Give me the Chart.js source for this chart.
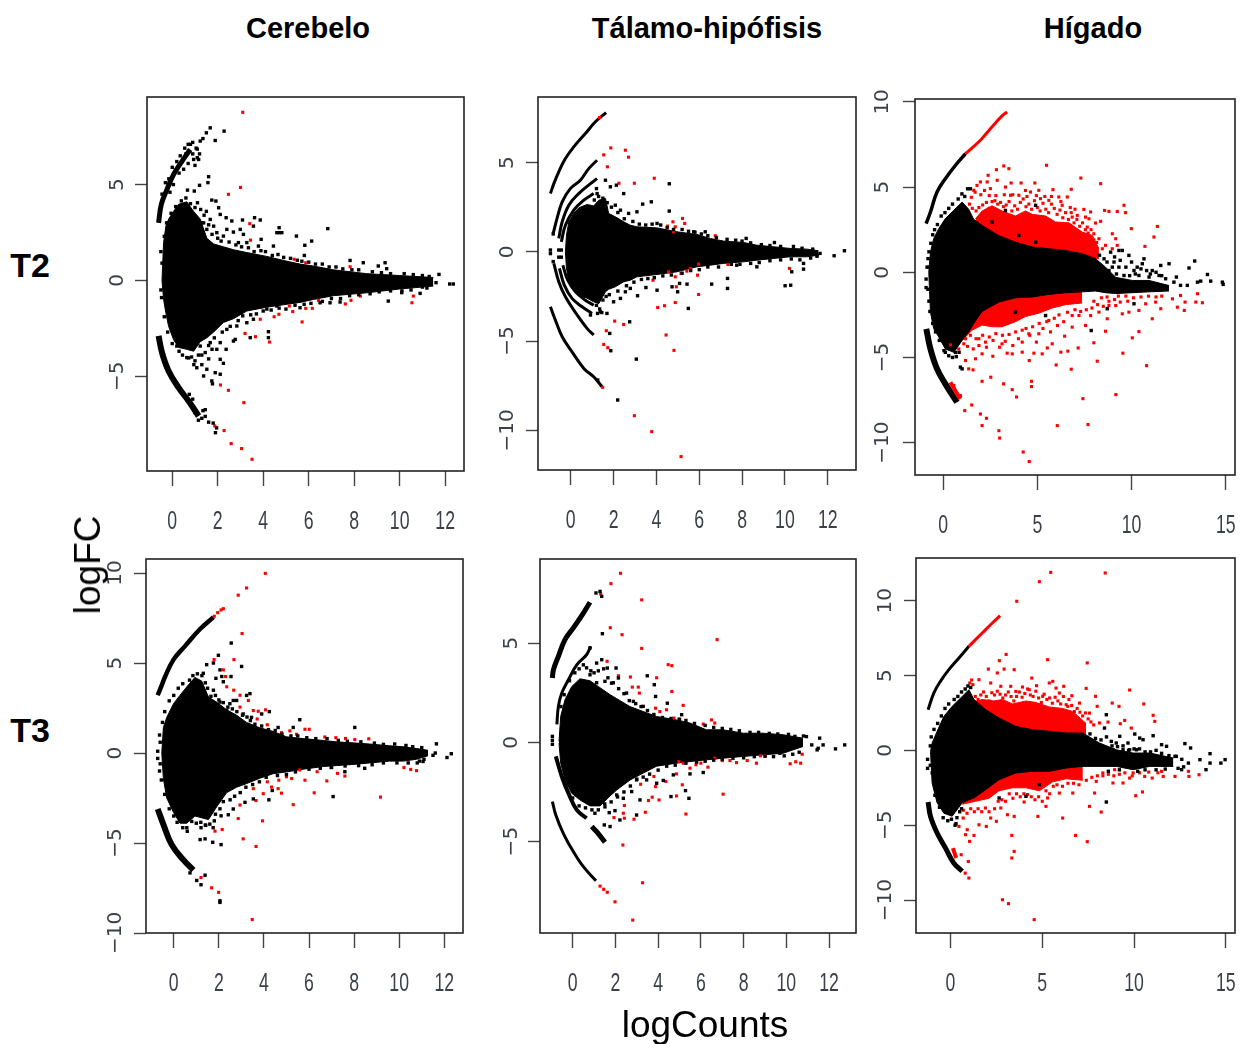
<!DOCTYPE html>
<html><head><meta charset="utf-8">
<script src="https://cdn.jsdelivr.net/npm/chart.js@4/dist/chart.umd.min.js"></script>
<style>
html,body{margin:0;padding:0;background:#fff;width:1240px;height:1044px;overflow:hidden}
canvas{position:absolute}
.t{position:absolute;font-family:"Liberation Sans",Arial,sans-serif;color:#000;white-space:nowrap;transform:translate(-50%,-50%);z-index:5}
.b{font-weight:bold;font-size:29px}
.r{font-weight:bold;font-size:34px}
.l{font-size:37px}
</style></head><body>
<div class="t b" style="left:308px;top:28px">Cerebelo</div>
<div class="t b" style="left:707px;top:28px">Tálamo-hipófisis</div>
<div class="t b" style="left:1093px;top:28px">Hígado</div>
<div class="t r" style="left:30px;top:265px">T2</div>
<div class="t r" style="left:30px;top:730px">T3</div>
<div class="t l" style="left:88px;top:565px;transform:translate(-50%,-50%) rotate(-90deg)">logFC</div>
<div class="t l" style="left:705px;top:1025px">logCounts</div>
<script>
// ---------- tick labels ----------
const xTicks12=[0,2,4,6,8,10,12];
const xTicks15=[0,5,10,15];
const yTicksA=[-5,0,5];
const yTicksB=[-10,-5,0,5];
const yTicksC=[-10,-5,0,5,10];

// ---------- T2 Cerebelo ----------
const p1BlobX=[-.45,-.38,-.28,-.16,.06,.28,.64,.94,1.23,1.52,1.82,2.25,2.69,3.28,4.16,5.04,5.62,6.2,7.09,8.55,10,11.48];
const p1BlobHi=[0,1.97,2.83,3.2,3.6,3.97,4.1,3.6,3.2,2.2,1.9,1.75,1.6,1.45,1.25,1,.85,.75,.55,.35,.25,.15];
const p1BlobLo=[0,-1,-1.7,-2.4,-3.1,-3.5,-3.6,-3.7,-3.2,-3,-2.7,-2.2,-2,-1.6,-1.4,-1.25,-1.15,-1,-.8,-.65,-.45,-.3];
const p1ArcUpX=[-.6,-.48,-.23,.06,.42,.79];
const p1ArcUpY=[3,3.97,4.75,5.53,6.2,6.83];
const p1ArcDnX=[-.6,-.45,-.16,.28,.72,1.16];
const p1ArcDnY=[-2.9,-3.77,-4.73,-5.6,-6.3,-7.08];
const p1Red=[[3.1,8.77],[2.47,4.49],[3,4.85],[3.41,2.96],[3.44,2.1],[5.36,1.1],[5.87,.92],[7.82,.71],[10.6,-.82],[10.54,-1.17],[8.27,-.82],[7.86,-1.04],[7.61,-1.23],[6.43,-1.04],[6.16,-1.46],[5.87,-1.46],[5.71,-2.17],[5.3,-1.63],[5.15,-1.34],[4.69,-1.77],[4.48,-1.9],[3.87,-2.03],[3.2,-2.77],[3.66,-2.94],[4.28,-3.22],[2.12,-5.46],[2.47,-5.74],[3.15,-6.38],[1.87,-7.6],[2.28,-7.84],[2.59,-8.52],[3.05,-8.78],[3.51,-9.34]];
const p1Black=[[12.2,-.19],[12.36,-.19],[11.73,.31],[11.6,-.12],[9.5,-1.08],[10.09,-.64],[10.9,-.68],[9.36,.92],[9.43,.61],[9.06,.75],[8.4,.92],[7.82,1.04],[6.84,2.7],[6.13,2.05],[5.46,2.31],[5.83,1.83],[5.81,1.3],[4.7,2.75],[4.6,2.49],[4.7,2.49],[4.82,2.49],[4.45,1.79],[3.87,3.15],[3.62,3.27],[3.57,2.83],[3.91,2.14],[3.79,1.79],[3.09,3.15],[2.69,2.52],[2.62,3.1],[2.37,3.27],[2.11,3.44],[1.92,4.14],[1.74,4.19],[2.04,3.79],[1.11,4.05],[.67,4.71],[.97,4.66],[1.2,4.96],[1.6,5.41],[1.57,5.1],[1.89,7.3],[2.28,7.79],[1.16,6.31],[.94,6.31],[2.99,2.66],[3.13,2.4],[2.91,1.97],[3.28,1.97],[1.67,3.18],[1.38,3],[1.52,2.66],[1.82,2.83],[1.96,2.49],[2.4,2.66],[2.25,2.31],[.2,-3.43],[.64,-4.03],[.72,-4.05],[1.08,-4.56],[1.38,-4.99],[1.52,-4.64],[1.74,-5.25],[1.77,-5.4],[1.89,-4.82],[2.11,-4.9],[2.11,-4.12],[2.25,-4.33],[2.37,-3.6],[2.69,-3.17],[2.77,-3.08],[3.43,-2.99],[4.23,-2.68],[4.23,-2.99],[1.23,-3.43],[1.45,-3.77],[1.67,-3.25],[1.96,-3.6],[2.11,-3.25],[2.4,-2.56],[2.84,-2.38],[3.28,-2.21],[3.57,-2.03],[4.16,-1.5],[4.6,-1.34],[5.62,-1.43],[6.5,-1.17],[6.94,-1.17],[7.38,-1.13],[1.23,7.27],[1.35,7.4],[1.67,7.96],[1.5,7.7],[.6,6.6],[.8,7.1],[1.05,6.9],[.9,7.2],[1.2,6.6]];
const p1Edge=[[1.4,3.4],[1.3,3],[1.6,2.9],[1.75,2.4],[2,2.2],[2.15,2.05],[2.5,2],[2.8,1.85],[3.05,1.75],[3.35,1.7],[3.6,1.5],[3.9,1.55],[4.1,1.5],[4.4,1.3],[4.65,1.35],[4.9,1.2],[5.2,1.15],[5.5,1.05],[5.7,1],[6,.95],[6.3,.85],[6.6,.85],[6.9,.7],[7.2,.7],[7.5,.6],[7.9,.55],[8.2,.55],[8.8,.45],[9.2,.4],[9.6,.35],[10.2,.35],[10.6,.3],[11,.25],[11.3,.2],[1.3,-3.9],[1.6,-3.4],[1.85,-3],[2.2,-2.7],[2.55,-2.4],[2.9,-2.1],[3.1,-1.85],[3.45,-1.8],[3.7,-1.75],[4,-1.6],[4.35,-1.55],[4.7,-1.45],[5,-1.5],[5.4,-1.3],[5.8,-1.25],[6.1,-1.2],[6.6,-1.1],[7,-.95],[7.4,-.95],[7.8,-.8],[8.2,-.75],[8.7,-.7],[9.1,-.6],[9.6,-.55],[10.1,-.55],[10.5,-.5],[11,-.35],[11.2,-.4],[-.5,1.5],[-.45,.9],[-.5,-.5],[-.47,-.9],[-.35,2.3],[-.25,3],[-.05,3.5],[.15,3.85],[.4,4.15],[.6,4.3],[.8,4],[1,3.8],[1.25,3.7],[1.5,3.6],[-.35,-1.9],[-.2,-2.7],[0,-3.3],[.3,-3.7],[.45,-3.9],[.85,-4],[1,-4.2],[1.15,-3.9],[.95,-4.4],[1.6,-4.1],[1.75,-3.6],[1.3,-4.4],[-.45,4.5],[-.3,5.1],[-.15,5.3],[0,5.9],[.2,6.2],[.35,6.5],[.55,6.9],[.7,7.1],[.3,5.6],[.5,5.8],[.7,6.1],[1,6],[1.1,6.4],[-.1,4.6],[.05,5],[.9,6.6],[1.1,6.85],[1.3,-7.2],[1.45,-7.1],[1.6,-7.4],[1.8,-7.45],[1.95,-7.7],[1.9,-7.95],[1.35,-6.8],[1.45,-6.75],[1,-6.9],[1.15,-7.3],[.9,-6.2],[.75,-5.95]];

// ---------- T2 Tálamo-hipófisis ----------
const p2BlobX=[-.25,-.2,-.09,.14,.37,.76,1.07,1.31,1.62,1.77,2.08,2.47,2.78,3.09,4.03,4.96,5.89,6.51,7.13,8.07,8.69,9.47,10.24,11.02,11.57];
const p2BlobHi=[0,.93,1.68,2.15,2.46,2.65,2.57,2.89,2.99,2.15,1.96,1.68,1.49,1.4,1.34,1.12,.97,.75,.6,.52,.37,.28,.19,.15,.06];
const p2BlobLo=[0,-.93,-1.68,-2.15,-2.43,-2.6,-2.8,-2.9,-2.24,-2.1,-1.96,-1.68,-1.59,-1.4,-1.27,-1.12,-.84,-.75,-.65,-.56,-.47,-.37,-.28,-.28,-.19];
const p2ArcUp1X=[-.95,-.79,-.56,-.25,.14,.68,1.15,1.65];
const p2ArcUp1Y=[3.26,3.82,4.48,5.22,5.88,6.62,7.28,7.8];
const p2ArcDn1X=[-.95,-.72,-.4,.06,.61,1.07,1.46];
const p2ArcDn1Y=[-3.08,-3.82,-4.76,-5.6,-6.53,-7,-7.56];
const p2ArcUp2X=[-.82,-.64,-.4,-.02,.45,.84,1.23];
const p2ArcUp2Y=[1.03,1.87,2.8,3.54,4.01,4.66,5.13];
const p2ArcUp3X=[-.56,-.4,-.09,.37,.92,1.23];
const p2ArcUp3Y=[.75,1.68,2.61,3.26,3.82,4.1];
const p2ArcUp4X=[-.44,-.25,.14,.61,1.07];
const p2ArcUp4Y=[.56,1.49,2.33,2.89,3.26];
const p2ArcDn2X=[-.79,-.56,-.25,.3,.76,1.07];
const p2ArcDn2Y=[-.65,-1.68,-2.52,-3.54,-4.29,-4.66];
const p2ArcDn3X=[-.53,-.3,.06,.53,.99];
const p2ArcDn3Y=[-.93,-1.87,-2.61,-3.08,-3.45];
const p2ArcDn4X=[-.37,-.14,.22,.68,1.07];
const p2ArcDn4Y=[-.75,-1.59,-2.24,-2.71,-2.99];
const p2Red=[[1.35,7.52],[1.54,5.43],[1.87,5.82],[2.55,5.69],[2.7,5.3],[1.71,4.76],[2.25,3.84],[2.97,3.84],[3.9,4.12],[5.22,1.87],[5.32,1.59],[4.77,1.68],[4.88,1.4],[4.52,1.44],[4.8,1.12],[6.75,.9],[7.34,-.71],[10.21,-.93],[5.97,-.69],[5.92,-1.31],[5.97,-2.39],[5.58,-.93],[5.42,-1.08],[5.15,-1.21],[4.88,-1.4],[4.57,-1.12],[3.84,-1.59],[4.93,-1.96],[4.06,-3.12],[4.38,-3.02],[4.88,-2.84],[2.05,-3.88],[2.47,-4.07],[1.66,-4.42],[4.45,-4.66],[1.54,-5.19],[1.73,-5.37],[4.82,-5.52],[1.49,-7.59],[2.97,-9.18],[3.78,-10.07],[5.15,-11.47]];
const p2Black=[[12.78,.06],[12.3,-.22],[11.64,-.09],[11.49,-.17],[10.87,-.65],[10.87,-.97],[10.32,-1.12],[10.01,-1.9],[10.27,-1.87],[7.32,-1.49],[7.32,-2.05],[6.58,-1.81],[5.43,-1.81],[5.08,-1.77],[4.73,-1.96],[4.99,-2.24],[5.49,-3.17],[8.69,-.84],[7.75,-.75],[8.19,.75],[9.51,.52],[6.28,1.12],[5.74,1.12],[4.6,2.28],[4.6,3.81],[3.76,2.8],[3.36,2.67],[3.09,2.24],[2.7,2.15],[2.47,3.26],[2.13,3.73],[1.85,3.64],[1.62,4.01],[1.2,3.54],[1.23,3.26],[2.08,2.61],[2.32,2.33],[4.03,1.59],[3.51,-2],[4.03,-2.15],[3.12,-2.46],[2.78,-2.05],[2.55,-2.24],[2.32,-2.61],[2,-2.8],[1.69,-3.45],[1.38,-3.36],[.92,-3.54],[2.75,-3.92],[1.82,-4.57],[1.87,-5.54],[3.06,-6.01],[2.19,-8.3],[1.26,-7.18],[-.95,.1],[-.95,-.1],[-.82,1],[-.82,-.55],[-.56,.1],[-.56,-.3],[-.44,.1],[-.44,-.3]];
const p2Edge=[[2.2,2.2],[2.5,1.85],[2.9,1.7],[3.2,1.55],[3.5,1.5],[3.8,1.55],[4.2,1.5],[4.5,1.35],[4.8,1.25],[5.2,1.25],[5.5,1.15],[5.8,1.1],[6.1,1],[6.4,.9],[6.8,.8],[7.3,.7],[7.7,.65],[8,.6],[8.4,.5],[8.9,.4],[9.3,.35],[9.8,.3],[10.4,.3],[10.8,.2],[11.3,.15],[2.2,-2.2],[2.6,-1.9],[2.95,-1.7],[3.3,-1.55],[3.6,-1.5],[3.9,-1.45],[4.3,-1.35],[4.7,-1.3],[5.2,-1.2],[5.6,-1.05],[6,-1],[6.4,-.85],[6.9,-.85],[7.5,-.7],[7.9,-.7],[8.4,-.65],[8.8,-.6],[9.3,-.5],[9.8,-.45],[10.3,-.4],[10.7,-.45],[11.2,-.35],[11.5,-.25],[1.1,2.9],[1.3,3.1],[1.5,3],[1.7,2.75],[1.9,2.5],[1.35,2.6],[1.6,2.4],[1.2,-3],[1.35,-3.2],[1.5,-2.7],[1.65,-2.5],[1.8,-2.4],[1.25,-3.45],[1.45,-3.4]];

// ---------- T2 Hígado ----------
const p3BlobX=[-.76,-.67,-.5,-.23,.12,.57,1.01,1.36,1.63,2.07,2.96,3.84,4.73,5.61,6.5,7.38,8.09,8.62,9.16,10.04,10.93,11.99];
const p3BlobHi=[0,1.19,1.97,2.56,3.15,3.64,4.12,3.7,3.1,2.75,2.15,1.77,1.48,1.38,1.28,1.09,.8,.3,-.3,-.48,-.48,-.78];
const p3BlobLo=[0,-2.35,-3.3,-3.8,-4.5,-4.7,-4,-3.5,-3,-2.3,-1.75,-1.5,-1.45,-1.3,-1.2,-1.15,-1.1,-1.2,-1.25,-1.2,-1.15,-1.1];
const p3CloudUpX=[1.72,2.07,2.6,3.13,3.84,4.37,4.73,5.44,5.97,6.68,7.38,7.92,8.27];
const p3CloudUpHi=[3.14,3.6,3.9,3.6,3.3,3.6,3.4,3.3,2.95,2.9,2.36,2.16,1.38];
const p3CloudUpLo=[1,1,1,1,1,1,1,1,1,1,.8,.8,.8];
const p3CloudDnX=[1.01,1.54,2.07,2.6,3.13,3.84,4.37,5.08,5.79,6.5,7.38];
const p3CloudDnHi=[-3,-2,-1,-1,-1,-1,-1,-1,-1,-1,-1];
const p3CloudDnLo=[-4,-3.4,-3.1,-3.2,-3.2,-2.9,-2.6,-2.4,-2.1,-1.9,-1.8];
const p3ArcUpX=[-.9,-.67,-.32,.12,.66,1.19];
const p3ArcUpY=[2.85,3.54,4.71,5.49,6.28,6.96];
const p3ArcUpRedX=[1.19,1.98,2.51,3.13,3.4];
const p3ArcUpRedY=[6.96,7.75,8.43,9.18,9.41];
const p3ArcDnX=[-.89,-.67,-.32,.12,.74];
const p3ArcDnY=[-3.32,-4.5,-5.67,-6.55,-7.63];
const p3ArcDnRedX=[.39,.65,.92];
const p3ArcDnRedY=[-6.45,-6.95,-7.43];
const p3Red=[[3.22,6.24],[3.49,6.08],[2.83,6.02],[2.39,5.69],[5.49,6.28],[7.31,5.53],[8.36,5.2],[4.14,5.24],[4.87,5.24],[3.61,5.24],[1.98,5.3],[1.8,5.1],[2.87,5.4],[2.51,4.91],[2.34,5.3],[1.63,4.81],[5.83,4.85],[6.8,4.87],[4.37,4.8],[4.64,4.71],[5.08,4.81],[3.31,5],[3.58,4.52],[4.02,4.52],[5.17,4.32],[5.61,4.22],[6.14,4.42],[6.59,4.42],[6.32,3.93],[7.47,3.69],[8.57,3.63],[8.8,3.57],[9.24,3.57],[9.6,3.93],[9.68,3.5],[7.83,3.54],[7.56,3.24],[7.12,3.34],[6.85,3.24],[7.74,3.14],[8.36,2.99],[8.09,2.89],[7.65,2.65],[9.99,2.56],[11.37,2.69],[11.19,2.07],[10.71,1.52],[8.98,2.26],[9.16,1.97],[8,2.26],[8.27,1.97],[8.62,1.58],[9.24,1.58],[8.98,1.38],[8.45,1.38],[13.76,-1.79],[13.41,-1.75],[13.5,-1.26],[12.8,-2.24],[12.84,-1.75],[12.43,-2.05],[12.17,-1.56],[12.6,-1.36],[11.55,-2.14],[11.1,-2.73],[11.28,-1.75],[10.75,-1.85],[10.39,-2.24],[9.86,-2.34],[9.51,-2.44],[9.16,-1.95],[8.71,-2.73],[8.8,-1.95],[8.27,-2.34],[7.83,-2.54],[7.21,-2.54],[6.85,-2.54],[6.85,-3.22],[7.56,-3.12],[10.39,-3.48],[10.04,-3.85],[9.54,-4.75],[10.8,-5.48],[8.62,-3.46],[8,-4.14],[8.18,-5.22],[7.17,-4.44],[6.62,-4.63],[6.25,-4.69],[6.8,-5.69],[6,-5.44],[6.45,-3.75],[5.53,-4.44],[5.79,-4.2],[4.82,-4.75],[5.26,-4.79],[4.57,-5.18],[4.2,-4.69],[3.67,-4.79],[3.13,-4.2],[3.4,-4.75],[2.64,-4.93],[2.07,-4.79],[1.72,-5.08],[1.19,-5.18],[1.36,-5.67],[1.59,-5.73],[2.07,-6.4],[2.53,-6.16],[3.21,-6.55],[4.69,-6.4],[4.69,-6.71],[3.67,-6.89],[3.9,-7.32],[7.42,-7.42],[9.17,-7.18],[6.06,-9],[7.69,-8.94],[4.25,-10.55],[4.57,-11.11],[2.96,-9.3],[3,-9.73],[2.07,-9],[1.98,-8.32],[2.3,-8.57],[1.52,-7.79],[1.15,-8.12],[.92,-7.24],[.57,-6.65],[5.61,-2.83],[6.07,-3.12],[5.08,-3.61],[4.55,-3.61],[4.2,-4.1],[2.25,-4.1],[1.9,-3.9],[1.19,-3.9],[.83,-4.5],[.39,-4.26]];
const p3RedCloud=[[1.9,3.8],[2.1,3.95],[2.3,4.1],[2.45,3.75],[2.6,4.15],[2.75,4.2],[2.9,4],[3.05,4.1],[3.2,3.85],[3.35,3.95],[3.5,4.15],[3.65,3.6],[3.8,3.9],[3.95,3.7],[4.1,4.1],[4.25,4.3],[4.4,3.85],[4.55,4],[4.7,3.7],[4.85,4.2],[5,3.8],[5.15,3.6],[5.3,4.05],[5.45,3.7],[5.6,3.5],[5.75,4],[5.9,3.75],[6.05,3.4],[6.2,3.65],[6.35,3.2],[6.5,3.5],[6.65,3.1],[6.8,3.5],[6.95,2.9],[7.1,3.1],[7.25,2.7],[7.4,2.9],[7.55,2.5],[7.7,2.3],[7.85,2.5],[8,1.9],[8.15,1.75],[2.2,3.5],[1.75,3.6],[1.55,3.75],[1.4,4],[1.5,4.4],[1.7,4.7],[2,4.55],[2.2,4.8],[2.45,4.5],[2.8,4.5],[3.25,4.55],[3.7,4.55],[4.45,4.45],[4.95,4.5],[5.4,4.45],[5.75,4.45],[6.25,4.15],[6.75,3.8],[7,3.7],[1.1,-4.2],[1.3,-4.35],[1.45,-3.7],[1.6,-4.5],[1.75,-3.9],[1.9,-4.3],[2.1,-3.7],[2.3,-4.4],[2.45,-3.8],[2.65,-4],[2.8,-3.6],[3,-4.4],[3.15,-3.7],[3.3,-4.05],[3.5,-3.65],[3.7,-4.3],[3.85,-3.5],[4,-3.9],[4.2,-3.4],[4.4,-3.3],[4.6,-3.7],[4.75,-3.2],[4.95,-4.1],[5.1,-3],[5.3,-3.3],[5.5,-2.9],[5.7,-3.5],[5.9,-2.7],[6.15,-2.5],[6.4,-2.9],[6.6,-2.35],[7,-2.2],[7.3,-2.3],[7.6,-2.2],[7.9,-2.1],[8.2,-1.9],[8.5,-2],[8.8,-1.7],[9.1,-1.6],[9.4,-1.75],[9.8,-1.7],[10.1,-1.5],[10.5,-1.45],[10.9,-1.4],[11.3,-1.45],[11.6,-1.4],[8,-1.7],[8.4,-1.5],[8.7,-1.45],[9.3,-1.4],[9.7,-1.4]];
const p3Black=[[14.82,-.58],[14.86,-.71],[14.2,-.52],[14.03,-.13],[13.67,-.52],[13.5,-.58],[13.35,.66],[13.05,.25],[12.96,-.77],[12.6,-.77],[12.38,-.28],[12.25,-.58],[11.99,.5],[11.55,.4],[11.1,.1],[10.66,.79],[10.57,.5],[10.3,.3],[9.86,.99],[10.13,.1],[9.51,1.28],[9.33,1.28],[8.89,1.18],[9.07,.6],[8.98,.3],[8.54,.79],[8.45,.3],[8.62,-.09],[9.33,.3],[9.6,-.19],[10.39,-.19],[10.93,-.28],[11.46,-.19],[11.81,-.38],[7.86,-3.42],[10.13,-1.85],[8.71,-2.14],[5.44,-2.54],[3.84,-2.34],[4.91,3.93],[3.31,3.63],[2.6,2.95],[4.02,2.16],[4.91,1.77],[1.01,-5.67],[.92,-5.57],[.66,-4.7],[.12,-4.7],[-.9,-.4],[-.9,-.9],[-.85,.3]];
const p3Edge=[[-.8,.8],[-.75,.3],[-.75,1.2],[-.65,1.7],[-.55,2.2],[-.45,2.5],[-.3,2.8],[-.1,3.3],[.1,3.5],[.3,3.75],[.5,4],[.8,4.3],[1,4.6],[1.15,4.45],[1.3,4.9],[1.45,4.9],[-.8,-1],[-.75,-1.7],[-.7,-2.3],[-.55,-3],[-.4,-3.5],[-.2,-4],[.05,-4.6],[.3,-4.9],[.5,-5],[.7,-4.95],[.85,-4.7],[8.3,1],[8.7,.6],[9.1,.9],[9.4,.7],[9.7,.3],[10,.6],[10.2,-.1],[10.5,.2],[10.8,.1],[11,-.1],[11.3,0],[11.6,-.2],[9.9,-.2],[9.2,-.1],[8.8,.1]];

// ---------- T3 Cerebelo ----------
const p4BlobX=[-.53,-.46,-.31,-.01,.28,.58,.94,1.24,1.54,1.9,2.35,2.79,3.23,3.82,4.41,5,5.74,6.63,7.22,8.1,8.69,9.58,10.17,10.76,11.28];
const p4BlobHi=[0,1.42,1.98,2.74,3.21,3.68,4.2,4,3.11,2.83,2.4,2.1,1.7,1.4,1.2,.9,.8,.7,.62,.55,.5,.4,.35,.25,.15];
const p4BlobLo=[0,-1.42,-2.5,-3.3,-3.9,-3.9,-3.5,-3.6,-3.7,-3,-2.2,-1.9,-1.7,-1.4,-1.15,-1.05,-.9,-.75,-.7,-.62,-.55,-.45,-.45,-.35,-.15];
const p4ArcUpX=[-.71,-.53,-.38,-.01,.5,1.17,1.76];
const p4ArcUpY=[3.21,3.77,4.25,5.19,5.94,6.89,7.55];
const p4ArcDnX=[-.71,-.46,-.09,.43,.87];
const p4ArcDnY=[-3.11,-3.96,-5.09,-5.94,-6.51];
const p4Red=[[4.06,9.98],[3.23,9.17],[2.86,8.77],[3.03,6.64],[2.67,5.19],[1.79,5.19],[2.2,4.62],[2.3,4.25],[2.35,3.68],[2.66,3.49],[2.94,3.21],[3.31,2.92],[2.94,2.55],[3.53,2.36],[4.07,2.4],[3.75,2.32],[3.7,1.89],[4.15,1.57],[4.78,1.13],[5.15,1.23],[5.45,1.04],[5.82,1.32],[6.01,1.32],[6.7,.89],[7.19,.85],[7.62,.81],[8.03,.75],[8.65,.79],[10.21,-.81],[10.51,-.91],[10.77,-.98],[9.17,-2.45],[7.59,-1.28],[7.26,-1.13],[6.97,-.81],[6.79,-1.55],[6.36,-1.04],[6.23,-2.21],[5.82,-1.51],[5.59,-.94],[5.3,-2.87],[5.23,-1.42],[5,-1.32],[4.78,-2.23],[4.63,-1.98],[4.66,-1.51],[4.34,-1.89],[4.15,-1.6],[3.97,-2.26],[3.65,-2.64],[3.53,-1.98],[3.94,-3.77],[3.65,-5.19],[3.08,-4.77],[2.94,-2.89],[2.86,-3.64],[2.15,-4.25],[1.83,-4.34],[1.21,-6.92],[1.68,-7.49],[1.99,-7.74],[3.48,-9.25],[1.8,7.6],[1.95,7.8],[2.1,7.95],[2.2,8.02]];
const p4Black=[[12.31,-.04],[12.12,-.25],[11.65,.51],[11.6,0],[11.5,-.13],[11.06,-.47],[8.03,1.42],[5.59,1.85],[5.3,1.42],[4.63,1.42],[4.24,2.3],[3.9,2.17],[3.38,3.3],[3.23,3.2],[2.64,2.92],[3.01,4.81],[2.55,6.11],[1.98,5.43],[1.76,5],[1.46,4.91],[1.31,4.43],[2.05,4.62],[2.54,4.25],[2.13,4.25],[1.87,4.15],[1.76,3.49],[2.2,3.96],[2.49,2.74],[2.79,2.92],[3.08,2.17],[3.45,1.98],[2.05,2.83],[2.35,2.36],[7.07,-2.42],[8.47,-.85],[7.59,-1.04],[4.22,-2.6],[4.37,-2.08],[3.53,-2.55],[3.16,-2.74],[2.64,-3.11],[2.42,-3.43],[2.1,-3.49],[1.8,-3.77],[1.42,-4.02],[1.21,-4.15],[.58,-4.15],[.35,-3.77],[1.17,-4.81],[1.39,-4.77],[1.73,-4.96],[2.1,-5.09],[.72,-6.66],[1.02,-7.08],[1.21,-7.32],[1.39,-6.79],[2.05,-8.21],[2.05,-8.3],[-.71,.1],[-.71,-.3],[-.63,1],[-.63,-1]];
const p4Edge=[[-.5,1.7],[-.6,.6],[-.6,-.6],[-.55,-1.5],[-.4,2.3],[-.2,2.9],[0,3.2],[.2,3.6],[.4,3.85],[.7,4.05],[.85,4.3],[1.05,4.4],[1.25,4.3],[1.4,3.9],[1.35,3.4],[1.5,3.6],[1.65,3.15],[1.85,3.2],[2,2.95],[2.2,2.8],[2.4,2.55],[2.6,2.45],[2.8,2.3],[3.05,2.1],[3.25,2],[3.4,1.8],[3.6,1.6],[3.9,1.5],[4.2,1.3],[4.5,1.25],[4.8,1.05],[5.2,.95],[5.5,.95],[5.9,.85],[6.3,.8],[6.8,.8],[7.3,.7],[7.7,.65],[8.3,.62],[8.9,.55],[9.3,.48],[9.8,.5],[10.3,.42],[10.6,.35],[11,.3],[-.4,-2.3],[-.2,-3.1],[0,-3.5],[.15,-3.85],[.4,-4.15],[.6,-4.35],[.8,-3.8],[1,-3.9],[1.2,-3.85],[1.4,-4],[1.6,-3.95],[1.75,-4.15],[1.85,-3.4],[2.05,-3.1],[2.2,-2.7],[2.5,-2.6],[2.7,-2.4],[2.95,-2.2],[3.2,-1.9],[3.5,-1.75],[3.8,-1.6],[4.1,-1.35],[4.6,-1.25],[5,-1.2],[5.4,-1.05],[6,-.9],[6.5,-.85],[7,-.8],[7.6,-.72],[8.2,-.7],[8.8,-.65],[9.3,-.55],[9.9,-.55],[10.4,-.55],[10.9,-.45],[11.1,-.35],[10.8,-.55]];

// ---------- T3 Tálamo-hipófisis ----------
const p5BlobX=[-.64,-.56,-.36,-.05,.34,.81,1.28,1.75,2.06,2.68,3.3,3.93,4.86,5.49,6.26,7.04,7.98,8.91,9.85,10.78];
const p5BlobHi=[.04,1.31,2.14,2.8,3.2,3.1,2.75,2.4,2.2,1.8,1.55,1.3,1.13,.97,.63,.63,.46,.46,.38,.21];
const p5BlobLo=[-.04,-1.05,-1.89,-2.56,-2.9,-3.2,-3.2,-2.7,-2.4,-1.9,-1.55,-1.2,-1.05,-.97,-.88,-.8,-.71,-.63,-.55,-.21];
const p5ArcUp1X=[-.95,-.9,-.67,-.36,.03,.5,.81];
const p5ArcUp1Y=[3.24,3.66,4.33,5.17,5.76,6.51,7.05];
const p5RingUpX=[-.74,-.67,-.51,-.2,.19,.65,.84];
const p5RingUpY=[.9,1.81,2.48,3.15,3.9,4.41,4.83];
const p5RingDnX=[-.79,-.51,-.2,.19,.65];
const p5RingDnY=[-.71,-1.72,-2.56,-3.4,-3.82];
const p5ArcDn1X=[-.95,-.79,-.44,.03,.5,1.09];
const p5ArcDn1Y=[-2.98,-3.66,-4.58,-5.5,-6.26,-6.97];
const p5ArcDn2X=[.89,1.12,1.51];
const p5ArcDn2Y=[-4.24,-4.5,-5.03];
const p5Red=[[2.24,8.51],[1.79,7.99],[1.31,7.47],[3.23,7.17],[1.76,5.77],[2.31,5.42],[6.76,5.17],[3.23,4.73],[4.47,3.91],[4.64,3.86],[1.61,4.08],[2.14,3.35],[2.7,3.29],[3.93,3.25],[2.79,2.78],[3.07,2.78],[3.12,2.48],[4.64,2.56],[5.17,1.86],[3.88,1.72],[4.08,1.55],[4.39,1.64],[4.74,1.22],[4.97,1.18],[6.11,.92],[6.5,1.13],[6.65,.97],[10.74,-.6],[10.67,-1.05],[10.44,-.98],[10.18,-1.08],[9.02,-.68],[8.79,-.68],[8.6,-1.05],[8.17,-.92],[7.67,-1.02],[7.36,-.92],[7,-.92],[6.65,-.8],[6.33,-1.25],[6,-1.05],[5.77,-1.13],[5.49,-1.3],[5.17,-1.05],[4.97,-.97],[4.86,-1.59],[4.36,-1.97],[3.8,-1.72],[3.88,-2.23],[3.18,-2.11],[5.13,-2.14],[4.86,-2.7],[4.04,-2.9],[3.72,-2.76],[3.55,-2.93],[7.04,-2.61],[5.3,-3.61],[3.4,-3.52],[2.87,-3.87],[2.42,-3.18],[2.37,-3.57],[2.42,-3.82],[1.93,-3.79],[2.35,-5.17],[3.27,-7.07],[2.81,-8.95],[1.98,-8.03],[1.28,-7.24],[1.45,-7.4],[1.62,-7.55]];
const p5Black=[[12.73,-.13],[12.3,-.33],[11.72,-.13],[11.44,-.38],[11.19,-.13],[11.56,.21],[10.94,.29],[6.11,-1.52],[5.49,-1.59],[5.44,-2.82],[5.28,-2.43],[4.6,-2.73],[4.43,1.97],[5.1,1.39],[3.88,2.31],[3.82,2.9],[3.49,3.35],[1.39,5.47],[.81,4.75],[1.36,4.16],[1.12,3.99],[1.62,3.74],[2.03,3.74],[2.14,3.24],[2.52,2.48],[2.84,2.06],[3.3,1.81],[1.51,3.07],[1.82,2.98],[.81,3.4],[1.12,3],[2.99,-1.89],[3.15,-2.9],[2.99,-3.66],[2.21,-3.91],[1.71,-3.54],[1.98,-3.44],[1.51,-3.25],[1.04,-3.57],[1.48,-4.16],[1.75,-4.24],[2.76,-2.48],[2.37,-2.82],[2.06,-2.65],[4.24,-1.92],[3.93,-2.06],[3.46,-1.89],[4.71,-1.64],[9.7,-.55],[11.49,-.3],[1.09,7.52],[1.28,7.6],[1.36,7.35],[-.95,.1],[-.95,-.1],[-.95,.3]];
const p5Edge=[[-.55,1.8],[-.4,2.4],[-.15,3.1],[.1,3.5],[.3,3.7],[.5,3.9],[.65,3.75],[.85,3.6],[1,3.5],[1.2,3.6],[1.45,3.7],[1.65,3.25],[1.9,3],[2.15,2.7],[2.4,2.45],[2.65,2.1],[2.95,1.95],[3.2,1.8],[3.5,1.6],[3.8,1.4],[4.2,1.25],[4.6,1.2],[5,1.15],[5.3,1.1],[5.7,.95],[6.2,.85],[6.6,.75],[7,.7],[7.4,.65],[7.8,.58],[8.3,.5],[8.7,.5],[9.2,.45],[9.6,.42],[10.1,.4],[10.4,.3],[10.8,.32],[-.3,-2.1],[0,-2.8],[.3,-3.2],[.6,-3.3],[.9,-3.4],[1.2,-3.4],[1.5,-3.1],[1.8,-3],[2.1,-2.75],[2.4,-2.5],[2.7,-2.2],[3,-1.85],[3.3,-1.75],[3.6,-1.6],[4,-1.4],[4.4,-1.2],[4.8,-1.15],[5.3,-1.05],[5.8,-1],[6.2,-.95],[6.6,-.9],[7,-.85],[7.5,-.8],[8,-.78],[8.5,-.72],[9,-.7],[9.4,-.72],[9.9,-.68],[10.3,-.6],[10.6,-.5]];

// ---------- T3 Hígado ----------
const p6BlobX=[-1.09,-1,-.73,-.36,.09,.64,1,1.28,1.92,2.64,3.56,4.47,5.38,6.3,7.21,8.12,9.03,9.95,10.86,12.14];
const p6BlobHi=[-.07,.49,1.27,2.27,2.94,3.6,4.05,3.4,2.72,2.16,1.6,1.38,1.27,1.16,1.16,.49,.04,-.18,-.18,-.51];
const p6BlobLo=[-.07,-2.2,-3.5,-4.2,-4.4,-3.5,-3.3,-3.18,-2.62,-1.96,-1.51,-1.4,-1.4,-1.18,-1.07,-1.07,-1.07,-1.29,-1.07,-1.07];
const p6CloudUpX=[1.19,1.73,2.37,2.83,3.38,4.11,4.65,5.38,6.11,6.66,7.39];
const p6CloudUpHi=[3.2,3.4,3.3,3.4,3.1,3.3,3.2,2.9,2.8,2.6,1.8];
const p6CloudUpLo=[1,1,1,1,1,1,1,1,1,1,.8];
const p6CloudDnX=[.64,1.37,2.1,2.64,3.38,4.11,4.84,5.57,6.3,7.21];
const p6CloudDnHi=[-3,-2,-1,-1,-1,-1,-1,-1,-1,-1];
const p6CloudDnLo=[-3.6,-3.4,-3.2,-2.7,-2.5,-2.5,-2.7,-2.1,-1.9,-2];
const p6ArcUpX=[-1.22,-.91,-.55,-.09,.46,1];
const p6ArcUpY=[2.72,3.83,4.61,5.39,6.17,6.95];
const p6ArcUpRedX=[1,1.73,2.28,2.7];
const p6ArcUpRedY=[6.95,7.84,8.51,9];
const p6ArcDnX=[-1.22,-1.09,-.73,-.27,.18,.64];
const p6ArcDnY=[-3.45,-4.41,-5.52,-6.53,-7.53,-8.08];
const p6ArcDnRedX=[.13,.31];
const p6ArcDnRedY=[-6.53,-7.19];
const p6Red=[[5.46,11.89],[4.84,11.27],[8.43,11.85],[3.61,9.96],[3.03,6.41],[2.66,5.99],[5.29,6.06],[7.45,5.84],[2.06,5.43],[2.55,5.17],[2.92,5.43],[3.47,5.39],[4.43,4.83],[1.55,4.72],[1.22,4.39],[2.19,4.5],[2.74,4.28],[3.28,4.28],[3.92,4.23],[4.69,4.32],[5.38,4.5],[5.57,4.61],[5.75,4.16],[6.17,4.28],[6.61,3.65],[7.39,4.14],[9.76,4.03],[10.53,3.1],[7.9,3.61],[8.81,3.16],[9.18,2.94],[7.99,2.94],[11.04,2.34],[11.13,1.94],[9.49,2],[9.25,1.78],[8.58,1.89],[8.12,1.83],[9.85,1.49],[7.57,2.49],[7.03,3.16],[6.39,2.94],[5.93,3.83],[5.02,3.61],[4.29,4.05],[3.56,3.94],[13.54,-1.63],[12.99,-1.74],[12.96,-1.4],[12.23,-1.74],[11.59,-1.74],[11.5,-1.4],[10.99,-1.85],[10.58,-1.74],[9.95,-1.51],[9.76,-1.85],[9.4,-2.18],[8.85,-2.18],[8.94,-1.29],[8.3,-1.51],[7.94,-2.07],[7.85,-2.85],[7.57,-3.74],[8.21,-4.12],[10.09,-3.03],[10.46,-2.78],[6.11,-4.52],[4.76,-4.41],[6.81,-5.68],[7.45,-6.1],[6.66,-2.85],[5.93,-2.85],[5.2,-3.74],[5.29,-3.18],[4.01,-3.45],[3.47,-4.41],[3.1,-4.3],[2.74,-3.85],[2.19,-4.52],[2.5,-4.74],[1.95,-5.08],[1.55,-4.97],[1.28,-5.68],[.91,-5.3],[.82,-5.63],[1.04,-6.08],[.46,-5.08],[.69,-4.52],[3.34,-5.68],[3.47,-6.75],[3.34,-7.19],[.97,-7.42],[.58,-6.97],[2.83,-9.98],[3.16,-10.24],[4.56,-11.31],[1,-8.53],[.8,-8.2]];
const p6RedCloud=[[1.35,3.6],[1.5,3.4],[1.65,3.7],[1.8,3.9],[1.95,3.6],[2.1,3.3],[2.25,3.85],[2.4,3.7],[2.55,3.95],[2.7,3.75],[2.85,3.5],[3,3.7],[3.15,3.9],[3.3,3.6],[3.45,3.3],[3.6,3.6],[3.75,3.9],[3.9,3.55],[4.05,3.8],[4.2,4.1],[4.35,3.7],[4.5,3.6],[4.65,3.95],[4.8,3.5],[4.95,3.2],[5.1,3.75],[5.25,3.4],[5.4,3.5],[5.55,3.15],[5.7,3.55],[5.85,3.3],[6,3.1],[6.15,3.6],[6.3,3.05],[6.45,3.4],[6.6,3],[6.75,2.6],[6.9,2.8],[7.05,2.55],[7.2,2.3],[7.35,2.5],[7.5,2.1],[7.65,1.9],[7.8,1.7],[1.05,4.5],[1.15,4.7],[.7,-4],[.9,-4.2],[1.1,-3.9],[1.3,-4.1],[1.5,-3.9],[1.7,-4.1],[1.9,-3.85],[2.1,-4.1],[2.4,-3.9],[2.6,-3.4],[2.8,-3.3],[3,-3.4],[3.2,-2.9],[3.4,-3.2],[3.6,-2.9],[3.8,-3.1],[4,-2.9],[4.2,-2.95],[4.4,-3.1],[4.6,-3.3],[4.8,-3.1],[5,-3.4],[5.2,-2.7],[5.4,-2.9],[5.6,-2.4],[5.8,-2.3],[6.1,-2.4],[6.4,-2.2],[6.7,-2.2],[7,-2.3],[7.4,-2],[7.7,-1.8],[8,-1.7],[8.3,-1.7],[8.6,-1.6],[8.9,-1.7],[9.2,-1.6],[9.5,-1.5],[9.9,-1.7],[10.3,-1.5],[10.8,-1.45],[11.3,-1.5]];
const p6Black=[[14.96,-.62],[14.73,-.85],[14.14,-.22],[14.14,-.85],[13.92,-1.29],[13.59,-.62],[13.08,.16],[12.77,.45],[12.96,-.85],[12.59,-1.29],[12.23,-.4],[11.77,.27],[11.5,.38],[11.04,.98],[10.49,.71],[10.31,.82],[10.04,1.09],[9.67,.49],[9.76,.04],[9.22,.94],[9.03,.49],[8.76,.6],[8.49,2.38],[8.39,1.49],[8.85,.04],[9.4,.04],[10.13,.04],[8.49,-3.45],[4.84,-2.29],[4.11,-3.07],[2.65,-3.18],[-1.25,-.6],[-1.25,-1.2],[-1.1,.3],[-1.1,-1]];
const p6Edge=[[-1.05,.9],[-.9,1.4],[-.7,1.8],[-.5,2.3],[-.3,2.8],[-.1,3.1],[.2,3.4],[.4,3.6],[.6,3.9],[.8,4.1],[.95,4.3],[1.1,4.2],[7.6,1.1],[7.9,.8],[8.2,.7],[8.5,.9],[8.8,.3],[9.1,.25],[9.4,.3],[9.7,0],[10,.1],[10.3,.1],[10.6,-.1],[10.9,-.1],[11.2,0],[11.5,-.2],[11.9,-.35],[12.3,-.4],[12.6,-.6],[-1,-1.5],[-.85,-3],[-.6,-3.8],[-.4,-4.5],[-.15,-4.7],[.05,-4.6],[.25,-5],[.35,-4.5],[.5,-4.1],[.3,-4.9],[.6,-3.9],[8.6,-1.4],[9.2,-1.3],[10.2,-1.4],[10.6,-1.3],[11.2,-1.3],[11.7,-1.25],[12.4,-1.2],[12.7,-1.1]];

// ---------- layout (pixels) and axis ranges ----------
const panels=[
 {box:[146.7,96.7,464,471],xr:[-1.11,12.83],yr:[-9.95,9.57],xt:xTicks12,yt:yTicksA,pad:2,
  blob:[p1BlobX,p1BlobHi,p1BlobLo],clouds:[],black:[...p1Black,...p1Edge],red:p1Red,
  arcs:[[p1ArcUpX,p1ArcUpY,5,'#000'],[p1ArcDnX,p1ArcDnY,6,'#000']]},
 {box:[537.7,97,855.7,469.7],xr:[-1.53,13.32],yr:[-12.22,8.67],xt:xTicks12,yt:yTicksB,pad:-3,
  blob:[p2BlobX,p2BlobHi,p2BlobLo],clouds:[],black:[...p2Black,...p2Edge],red:p2Red,
  arcs:[[p2ArcUp1X,p2ArcUp1Y,3,'#000'],[p2ArcDn1X,p2ArcDn1Y,3,'#000'],[p2ArcUp2X,p2ArcUp2Y,3,'#000'],[p2ArcUp3X,p2ArcUp3Y,3,'#000'],[p2ArcUp4X,p2ArcUp4Y,3,'#000'],[p2ArcDn2X,p2ArcDn2Y,3,'#000'],[p2ArcDn3X,p2ArcDn3Y,3,'#000'],[p2ArcDn4X,p2ArcDn4Y,3,'#000']]},
 {box:[914.7,98.7,1234.3,474.3],xr:[-1.49,15.49],yr:[-11.9,10.17],xt:xTicks15,yt:yTicksC,pad:-1,
  blob:[p3BlobX,p3BlobHi,p3BlobLo],clouds:[[p3CloudUpX,p3CloudUpHi,p3CloudUpLo],[p3CloudDnX,p3CloudDnHi,p3CloudDnLo]],black:[...p3Black,...p3Edge],red:[...p3Red,...p3RedCloud],
  arcs:[[p3ArcUpX,p3ArcUpY,3.5,'#000'],[p3ArcUpRedX,p3ArcUpRedY,3,'#f00'],[p3ArcDnX,p3ArcDnY,6,'#000'],[p3ArcDnRedX,p3ArcDnRedY,4,'#f00']]},
 {box:[146,559,463.3,933],xr:[-1.23,12.83],yr:[-10,10.78],xt:xTicks12,yt:yTicksC,pad:-3,
  blob:[p4BlobX,p4BlobHi,p4BlobLo],clouds:[],black:[...p4Black,...p4Edge],red:p4Red,
  arcs:[[p4ArcUpX,p4ArcUpY,4.5,'#000'],[p4ArcDnX,p4ArcDnY,6,'#000']]},
 {box:[540.3,559,856.7,932.7],xr:[-1.53,13.26],yr:[-9.6,9.23],xt:xTicks12,yt:yTicksA,pad:1,
  blob:[p5BlobX,p5BlobHi,p5BlobLo],clouds:[],black:[...p5Black,...p5Edge],red:p5Red,
  arcs:[[p5ArcUp1X,p5ArcUp1Y,5,'#000'],[p5RingUpX,p5RingUpY,3,'#000'],[p5RingDnX,p5RingDnY,4,'#000'],[p5ArcDn1X,p5ArcDn1Y,3,'#000'],[p5ArcDn2X,p5ArcDn2Y,5,'#000']]},
 {box:[915.7,558.3,1234.3,933.3],xr:[-1.88,15.5],yr:[-12.2,12.85],xt:xTicks15,yt:yTicksC,pad:-3,
  blob:[p6BlobX,p6BlobHi,p6BlobLo],clouds:[[p6CloudUpX,p6CloudUpHi,p6CloudUpLo],[p6CloudDnX,p6CloudDnHi,p6CloudDnLo]],black:[...p6Black,...p6Edge],red:[...p6Red,...p6RedCloud],
  arcs:[[p6ArcUpX,p6ArcUpY,3,'#000'],[p6ArcUpRedX,p6ArcUpRedY,3,'#f00'],[p6ArcDnX,p6ArcDnY,5,'#000'],[p6ArcDnRedX,p6ArcDnRedY,4,'#f00']]}
];

const YW=60,XH=72,PT=22,PR=44,XSQ=.68;
const zip=(xs,ys)=>xs.map((x,i)=>({x,y:ys[i]}));
const pairs=a=>a.map(p=>({x:p[0],y:p[1]}));
const boxPlugin={id:'box',afterDatasetsDraw(c){const a=c.chartArea,g=c.ctx;g.save();g.strokeStyle='#222';g.lineWidth=1.6;g.strokeRect(a.left,a.top,a.right-a.left,a.bottom-a.top);g.restore();}};
// Tall, narrow x tick labels: the axis lays them out, this only squeezes each glyph run.
function squeezeLabels(s){
 if(s._sq)return; s._sq=true;
 s.drawLabels=function(area){
  const g=s.ctx;
  s.getLabelItems(area).forEach(it=>{
   const o=it.options;
   g.save();g.translate(o.translation[0],o.translation[1]);g.scale(XSQ,1);
   g.font=it.font.string;g.fillStyle=o.color;g.textAlign=o.textAlign;g.textBaseline=o.textBaseline;
   g.fillText(it.label,0,it.textOffset);g.restore();
  });
 };
}
function band(xs,hi,lo,col,order){
 const base={showLine:true,pointRadius:0,tension:0,borderColor:col,borderWidth:1,backgroundColor:col,order};
 return [Object.assign({data:zip(xs,hi),fill:'+1'},base),Object.assign({data:zip(xs,lo),fill:false},base)];
}

panels.forEach(p=>{
 const [L,T,R,B]=p.box;
 const cv=document.createElement('canvas');
 const w=Math.round(R-L)+YW+PR,h=Math.round(B-T)+PT+XH;
 cv.width=w;cv.height=h;
 cv.style.left=(L-YW)+'px';cv.style.top=(T-PT)+'px';
 cv.style.width=w+'px';cv.style.height=h+'px';
 document.body.appendChild(cv);
 const ds=[];
 p.clouds.forEach(cl=>ds.push(...band(cl[0],cl[1],cl[2],'#f00',5)));
 ds.push(...band(p.blob[0],p.blob[1],p.blob[2],'#000',4));
 p.arcs.forEach(a=>ds.push({data:zip(a[0],a[1]),showLine:true,pointRadius:0,tension:.4,borderColor:a[3],borderWidth:a[2],fill:false,order:a[3]==='#000'?3:2}));
 ds.push({data:pairs(p.red),pointStyle:'rect',pointRadius:2.2,backgroundColor:'#f00',borderWidth:0,order:2.5});
 ds.push({data:pairs(p.black),pointStyle:'rect',pointRadius:2.4,backgroundColor:'#000',borderWidth:0,order:2});
 new Chart(cv,{type:'scatter',data:{datasets:ds},plugins:[boxPlugin],options:{
  responsive:false,animation:false,devicePixelRatio:1,
  layout:{padding:{top:PT,right:PR,left:0,bottom:0}},
  plugins:{legend:{display:false},title:{display:false},tooltip:{enabled:false}},
  scales:{
   x:{type:'linear',min:p.xr[0],max:p.xr[1],
    afterBuildTicks:s=>{s.ticks=p.xt.map(value=>({value}));},
    afterFit:s=>{s.height=XH;squeezeLabels(s);},
    grid:{drawOnChartArea:false,drawTicks:true,tickLength:15,color:'#444',tickWidth:1.4},
    border:{display:false},
    ticks:{autoSkip:false,maxRotation:0,minRotation:0,padding:20,color:'#3a3f4a',
      font:{family:'"Liberation Sans"',size:26},callback:v=>String(v)}},
   y:{type:'linear',min:p.yr[0],max:p.yr[1],
    afterBuildTicks:s=>{s.ticks=p.yt.map(value=>({value}));},
    afterFit:s=>{s.width=YW;},
    grid:{drawOnChartArea:false,drawTicks:true,tickLength:12,color:'#444',tickWidth:1.4},
    border:{display:false},
    ticks:{autoSkip:false,minRotation:90,maxRotation:90,crossAlign:'center',padding:p.pad,color:'#3a3f4a',
      font:{family:'"DejaVu Sans"',size:20},callback:v=>String(v).replace('-','\u2212')}}
  }}});
});
</script>
</body></html>
